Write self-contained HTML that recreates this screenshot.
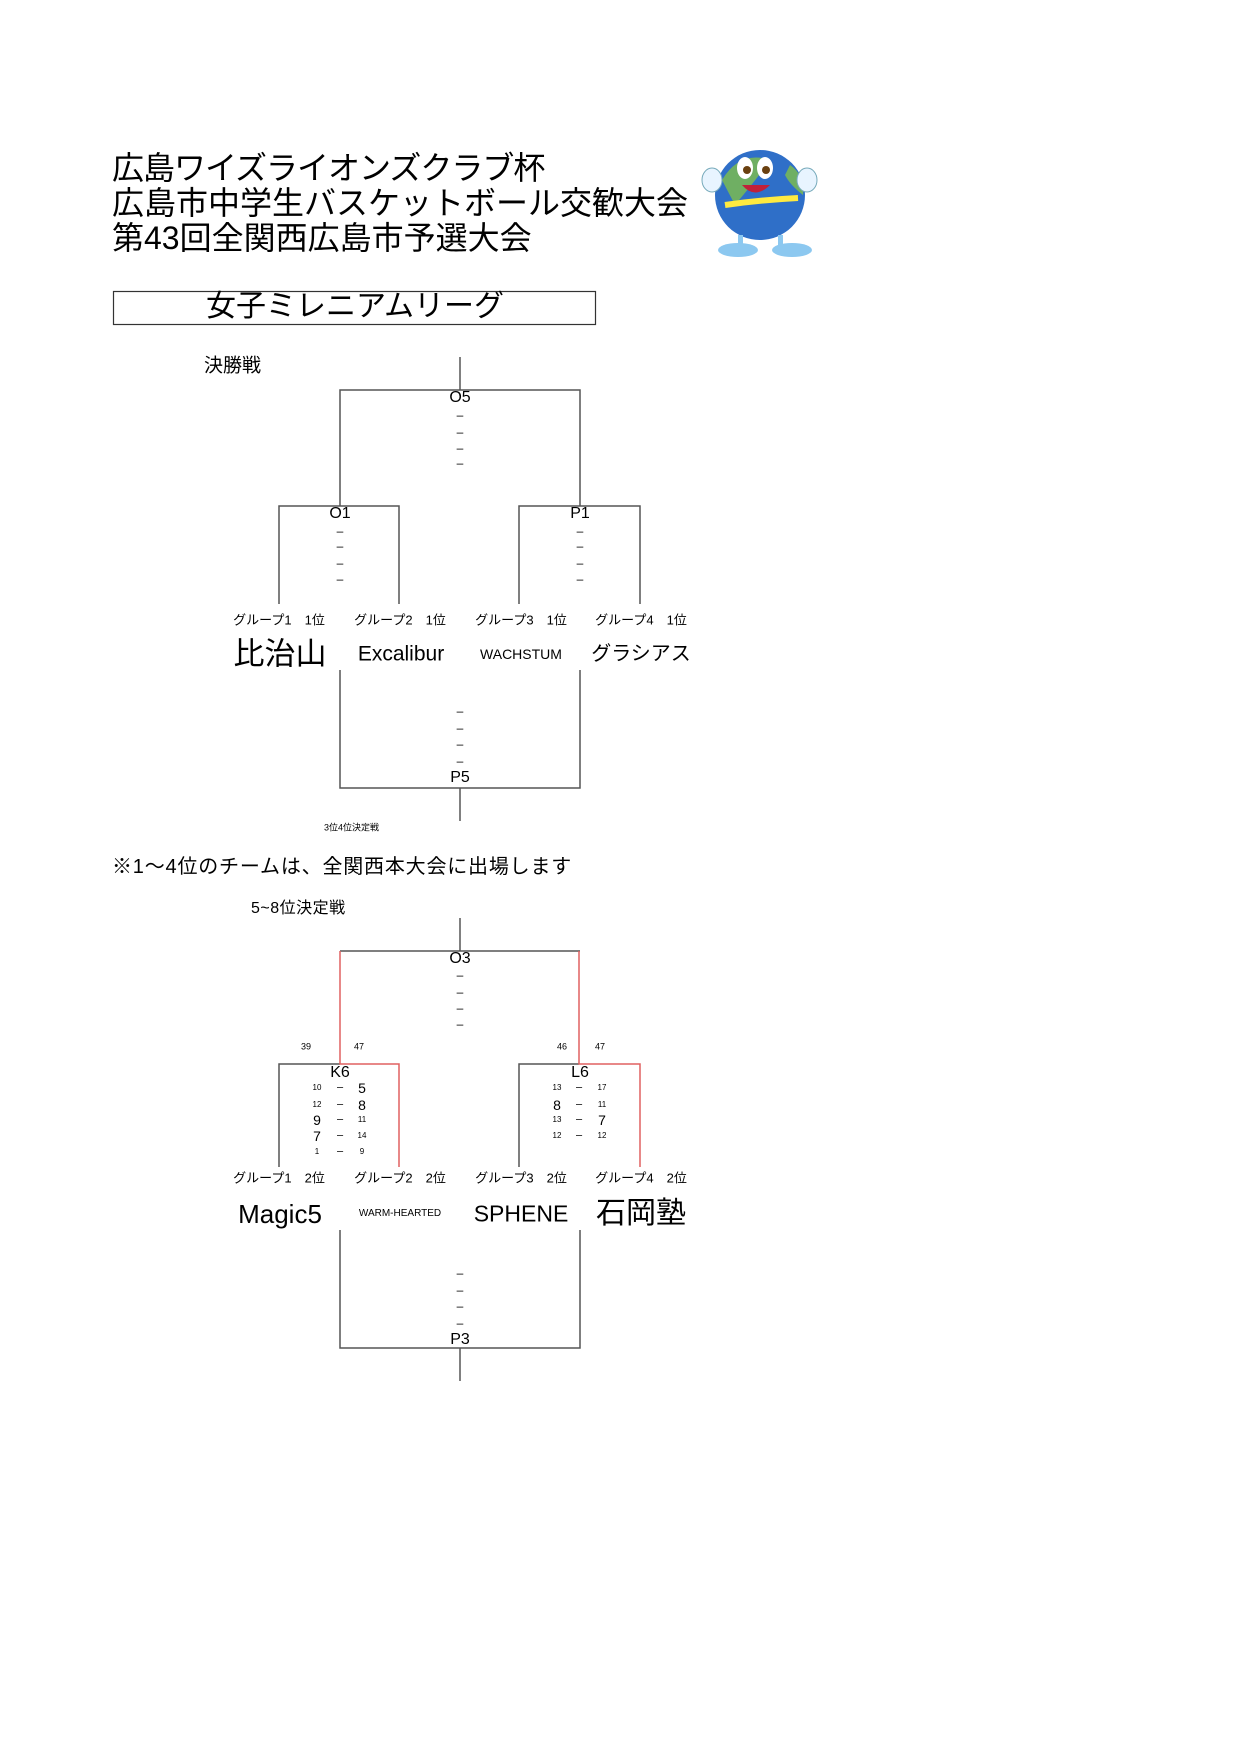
<!DOCTYPE html>
<html><head><meta charset="utf-8">
<style>
html,body{margin:0;padding:0;background:#fff;}
body{width:1241px;height:1755px;position:relative;overflow:hidden;font-family:"Liberation Sans","Noto Sans CJK JP",sans-serif;color:#000;}
.t{position:absolute;white-space:nowrap;line-height:1;}
.c{transform:translate(-50%,-50%);}
.l{transform:translateY(-50%);}
svg{position:absolute;left:0;top:0;}
</style></head><body>
<svg width="1241" height="1755">
<g stroke="#555" stroke-width="1.5" fill="none">
<line x1="460" y1="357" x2="460" y2="390"/>
<polyline points="340,506 340,390 580,390 580,506"/>
<polyline points="279,604 279,506 399,506 399,604"/>
<polyline points="519,604 519,506 640,506 640,604"/>
<polyline points="340,670 340,788 580,788 580,670"/>
<line x1="460" y1="788" x2="460" y2="821"/>
<line x1="460" y1="918" x2="460" y2="951"/>
<line x1="340" y1="951" x2="580" y2="951"/>
<polyline points="279,1167 279,1064 340,1064"/>
<polyline points="519,1167 519,1064 579,1064"/>
<polyline points="340,1230 340,1348 580,1348 580,1230"/>
<line x1="460" y1="1348" x2="460" y2="1381"/>
</g>
<g stroke="#e06060" stroke-width="1.5" fill="none">
<polyline points="340,951 340,1064 399,1064 399,1167"/>
<polyline points="579,951 579,1064 640,1064 640,1167"/>
</g>
<rect x="113.5" y="291.5" width="482" height="33" fill="none" stroke="#333" stroke-width="1.2"/>
<g>
<circle cx="760" cy="195" r="45" fill="#2f6fc8"/>
<path d="M722 180 Q740 150 770 160 Q760 175 735 205 Z" fill="#7fbf4a" opacity="0.8"/>
<path d="M790 165 Q805 175 803 195 Q790 185 785 175 Z" fill="#7fbf4a" opacity="0.8"/>
<ellipse cx="745" cy="168" rx="8" ry="11" fill="#fff"/>
<ellipse cx="765" cy="168" rx="8" ry="11" fill="#fff"/>
<circle cx="747" cy="170" r="4" fill="#6a4010"/>
<circle cx="766" cy="170" r="4" fill="#6a4010"/>
<path d="M742 185 Q755 200 770 185 Z" fill="#c0203a"/>
<ellipse cx="712" cy="180" rx="10" ry="12" fill="#e8f4ff" stroke="#7ab" />
<ellipse cx="807" cy="180" rx="10" ry="12" fill="#e8f4ff" stroke="#7ab"/>
<path d="M725 205 Q760 200 798 198" stroke="#ffea40" stroke-width="6" fill="none"/>
<ellipse cx="738" cy="250" rx="20" ry="7" fill="#8cc8f0"/>
<ellipse cx="792" cy="250" rx="20" ry="7" fill="#8cc8f0"/>
<rect x="738" y="235" width="5" height="12" fill="#8cc8f0"/>
<rect x="778" y="235" width="5" height="12" fill="#8cc8f0"/>
</g>
</svg>

<div class="t l" style="left:112px;top:168px;font-size:32px;letter-spacing:-1px;">広島ワイズライオンズクラブ杯</div>
<div class="t l" style="left:112px;top:203px;font-size:32px;">広島市中学生バスケットボール交歓大会</div>
<div class="t l" style="left:112px;top:238px;font-size:32px;">第43回全関西広島市予選大会</div>
<div class="t c" style="left:355px;top:307px;font-size:30px;">女子ミレニアムリーグ</div>

<div class="t l" style="left:204px;top:366px;font-size:19px;">決勝戦</div>
<div class="t c" style="left:460px;top:398px;font-size:16px;">O5</div>
<div class="t c" style="left:460px;top:415px;font-size:12px;">–</div>
<div class="t c" style="left:460px;top:432px;font-size:12px;">–</div>
<div class="t c" style="left:460px;top:448px;font-size:12px;">–</div>
<div class="t c" style="left:460px;top:463px;font-size:12px;">–</div>
<div class="t c" style="left:340px;top:514px;font-size:16px;">O1</div>
<div class="t c" style="left:580px;top:514px;font-size:16px;">P1</div>
<div class="t c" style="left:340px;top:531px;font-size:12px;">–</div>
<div class="t c" style="left:340px;top:546px;font-size:12px;">–</div>
<div class="t c" style="left:340px;top:563px;font-size:12px;">–</div>
<div class="t c" style="left:340px;top:579px;font-size:12px;">–</div>
<div class="t c" style="left:580px;top:531px;font-size:12px;">–</div>
<div class="t c" style="left:580px;top:546px;font-size:12px;">–</div>
<div class="t c" style="left:580px;top:563px;font-size:12px;">–</div>
<div class="t c" style="left:580px;top:579px;font-size:12px;">–</div>

<div class="t c" style="left:279px;top:620px;font-size:13px;">グループ1　1位</div>
<div class="t c" style="left:400px;top:620px;font-size:13px;">グループ2　1位</div>
<div class="t c" style="left:521px;top:620px;font-size:13px;">グループ3　1位</div>
<div class="t c" style="left:641px;top:620px;font-size:13px;">グループ4　1位</div>
<div class="t c" style="left:280px;top:654px;font-size:31px;">比治山</div>
<div class="t c" style="left:401px;top:654px;font-size:21px;">Excalibur</div>
<div class="t c" style="left:521px;top:654px;font-size:14px;">WACHSTUM</div>
<div class="t c" style="left:641px;top:654px;font-size:20px;">グラシアス</div>

<div class="t c" style="left:460px;top:711px;font-size:12px;">–</div>
<div class="t c" style="left:460px;top:728px;font-size:12px;">–</div>
<div class="t c" style="left:460px;top:744px;font-size:12px;">–</div>
<div class="t c" style="left:460px;top:761px;font-size:12px;">–</div>
<div class="t c" style="left:460px;top:778px;font-size:16px;">P5</div>
<div class="t l" style="left:324px;top:828px;font-size:9px;">3位4位決定戦</div>

<div class="t l" style="left:112px;top:867px;font-size:20px;letter-spacing:0.8px;">※1～4位のチームは、全関西本大会に出場します</div>
<div class="t l" style="left:251px;top:909px;font-size:16px;letter-spacing:0.5px;">5~8位決定戦</div>

<div class="t c" style="left:460px;top:959px;font-size:16px;">O3</div>
<div class="t c" style="left:460px;top:975px;font-size:12px;">–</div>
<div class="t c" style="left:460px;top:992px;font-size:12px;">–</div>
<div class="t c" style="left:460px;top:1008px;font-size:12px;">–</div>
<div class="t c" style="left:460px;top:1024px;font-size:12px;">–</div>
<div class="t c" style="left:306px;top:1047px;font-size:9px;">39</div>
<div class="t c" style="left:359px;top:1047px;font-size:9px;">47</div>
<div class="t c" style="left:562px;top:1047px;font-size:9px;">46</div>
<div class="t c" style="left:600px;top:1047px;font-size:9px;">47</div>
<div class="t c" style="left:340px;top:1073px;font-size:16px;">K6</div>
<div class="t c" style="left:580px;top:1073px;font-size:16px;">L6</div>

<div class="t c" style="left:317px;top:1088px;font-size:8px;">10</div><div class="t c" style="left:340px;top:1088px;font-size:11px;">–</div><div class="t c" style="left:362px;top:1088px;font-size:14px;">5</div>
<div class="t c" style="left:317px;top:1105px;font-size:8px;">12</div><div class="t c" style="left:340px;top:1105px;font-size:11px;">–</div><div class="t c" style="left:362px;top:1105px;font-size:14px;">8</div>
<div class="t c" style="left:317px;top:1120px;font-size:14px;">9</div><div class="t c" style="left:340px;top:1120px;font-size:11px;">–</div><div class="t c" style="left:362px;top:1120px;font-size:8px;">11</div>
<div class="t c" style="left:317px;top:1136px;font-size:14px;">7</div><div class="t c" style="left:340px;top:1136px;font-size:11px;">–</div><div class="t c" style="left:362px;top:1136px;font-size:8px;">14</div>
<div class="t c" style="left:317px;top:1152px;font-size:8px;">1</div><div class="t c" style="left:340px;top:1152px;font-size:11px;">–</div><div class="t c" style="left:362px;top:1152px;font-size:8px;">9</div>

<div class="t c" style="left:557px;top:1088px;font-size:8px;">13</div><div class="t c" style="left:579px;top:1088px;font-size:11px;">–</div><div class="t c" style="left:602px;top:1088px;font-size:8px;">17</div>
<div class="t c" style="left:557px;top:1105px;font-size:14px;">8</div><div class="t c" style="left:579px;top:1105px;font-size:11px;">–</div><div class="t c" style="left:602px;top:1105px;font-size:8px;">11</div>
<div class="t c" style="left:557px;top:1120px;font-size:8px;">13</div><div class="t c" style="left:579px;top:1120px;font-size:11px;">–</div><div class="t c" style="left:602px;top:1120px;font-size:14px;">7</div>
<div class="t c" style="left:557px;top:1136px;font-size:8px;">12</div><div class="t c" style="left:579px;top:1136px;font-size:11px;">–</div><div class="t c" style="left:602px;top:1136px;font-size:8px;">12</div>

<div class="t c" style="left:279px;top:1178px;font-size:13px;">グループ1　2位</div>
<div class="t c" style="left:400px;top:1178px;font-size:13px;">グループ2　2位</div>
<div class="t c" style="left:521px;top:1178px;font-size:13px;">グループ3　2位</div>
<div class="t c" style="left:641px;top:1178px;font-size:13px;">グループ4　2位</div>
<div class="t c" style="left:280px;top:1214px;font-size:26px;">Magic5</div>
<div class="t c" style="left:400px;top:1214px;font-size:10px;">WARM-HEARTED</div>
<div class="t c" style="left:521px;top:1214px;font-size:23px;">SPHENE</div>
<div class="t c" style="left:641px;top:1214px;font-size:30px;">石岡塾</div>

<div class="t c" style="left:460px;top:1273px;font-size:12px;">–</div>
<div class="t c" style="left:460px;top:1290px;font-size:12px;">–</div>
<div class="t c" style="left:460px;top:1306px;font-size:12px;">–</div>
<div class="t c" style="left:460px;top:1323px;font-size:12px;">–</div>
<div class="t c" style="left:460px;top:1340px;font-size:16px;">P3</div>
</body></html>
